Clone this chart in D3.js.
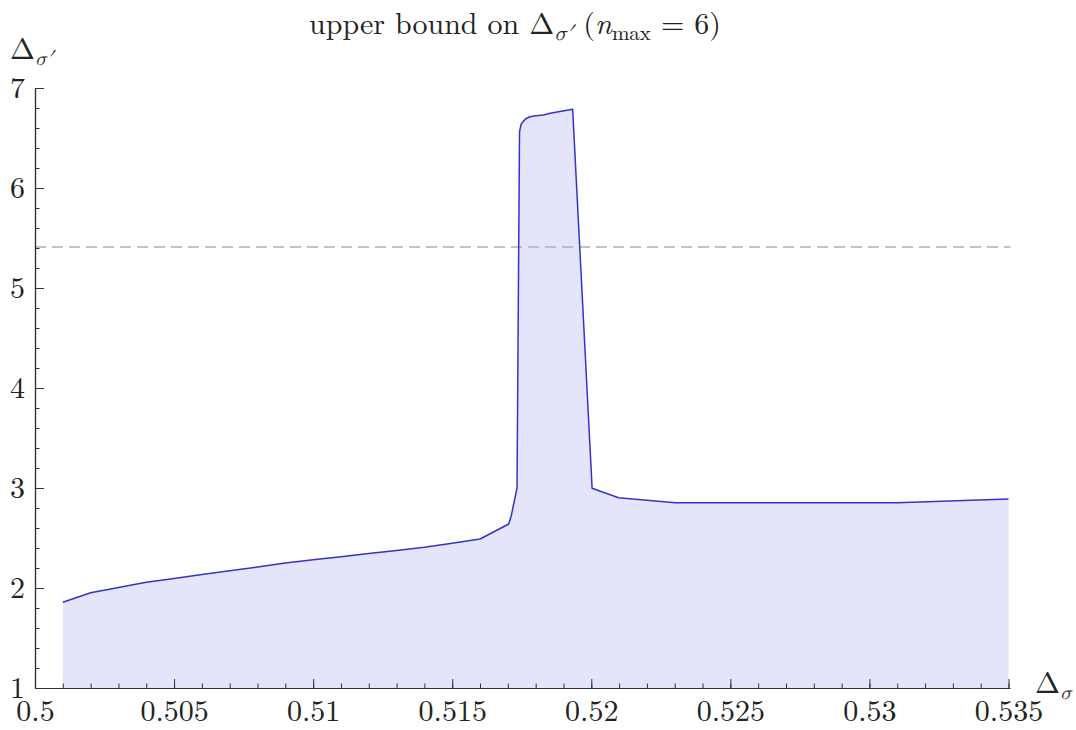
<!DOCTYPE html>
<html>
<head>
<meta charset="utf-8">
<script src="https://cdn.jsdelivr.net/npm/d3@7"></script>
<style>
  html, body { margin: 0; padding: 0; background: #fff; }
  svg { display: block; }
</style>
</head>
<body>
<svg id="chart" width="1076" height="730"></svg>
<script>
// ---- data ----
const deltaSigma = [0.501,0.502,0.503,0.504,0.505,0.506,0.507,0.508,0.509,0.510,0.511,0.512,0.513,0.514,0.515,0.516,
  0.51703,0.51712,0.51718,0.51733,0.51742,0.51748,0.51763,0.51777,0.51793,0.51828,0.51852,0.51933,
  0.52003,0.52098,0.52302,0.531,0.535];
const upperBound = [1.857,1.953,2.005,2.057,2.096,2.135,2.173,2.21,2.25,2.282,2.313,2.344,2.375,2.407,2.448,2.49,
  2.64,2.72,2.80,3.0,6.563,6.64,6.69,6.71,6.72,6.73,6.747,6.787,
  2.997,2.903,2.853,2.853,2.89];
const referenceLevel = 5.41;
const xTickValues = [0.5,0.505,0.51,0.515,0.52,0.525,0.53,0.535];
const xTickLabels = ["0.5","0.505","0.51","0.515","0.52","0.525","0.53","0.535"];
const yTickValues = [1,2,3,4,5,6,7];
const yTickLabels = ["1","2","3","4","5","6","7"];
const xDomain = [0.5, 0.535];
const yDomain = [1, 7];

(function () {
const FONT = '"Latin Modern Roman", "Liberation Serif", serif';
const MATH = '"Latin Modern Math", "Latin Modern Roman", "Liberation Serif", serif';
const svg = d3.select("#chart");
const mLeft = 35, mRight = 1008.5, mTop = 88, mBottom = 688;
const x = d3.scaleLinear().domain(xDomain).range([mLeft, mRight]);
const y = d3.scaleLinear().domain(yDomain).range([mBottom, mTop]);
const data = deltaSigma.map((d, i) => ({x: d, y: upperBound[i]}));

svg.append("path")
  .datum(data)
  .attr("d", d3.area().x(d => x(d.x)).y0(y(yDomain[0])).y1(d => y(d.y)))
  .attr("fill", "#e4e4fb");

svg.append("line")
  .attr("x1", x(xDomain[0])).attr("x2", x(xDomain[1]) + 2)
  .attr("y1", y(referenceLevel)).attr("y2", y(referenceLevel))
  .attr("stroke", "#b0b0b0").attr("stroke-width", 1.3)
  .attr("stroke-dasharray", "11,6");

svg.append("path")
  .datum(data)
  .attr("d", d3.line().x(d => x(d.x)).y(d => y(d.y)))
  .attr("fill", "none")
  .attr("stroke", "#3434c8")
  .attr("stroke-width", 1.5)
  .attr("stroke-linejoin", "round");

const axisColor = "#333";
const xMinor = d3.range(0, 36).map(i => xDomain[0] + i * 0.001);
const yMinor = d3.range(0, 31).map(i => yDomain[0] + i * 0.2);

const gxMinor = svg.append("g").attr("transform", `translate(0,${mBottom})`)
  .call(d3.axisBottom(x).tickValues(xMinor).tickSize(-4.5).tickSizeOuter(0).tickFormat(""));
const gyMinor = svg.append("g").attr("transform", `translate(${mLeft},0)`)
  .call(d3.axisLeft(y).tickValues(yMinor).tickSize(-4.5).tickSizeOuter(0).tickFormat(""));

const gx = svg.append("g").attr("transform", `translate(0,${mBottom})`)
  .call(d3.axisBottom(x).tickValues(xTickValues).tickSize(-9).tickSizeOuter(0).tickPadding(12)
    .tickFormat((d, i) => xTickLabels[i]));
const gy = svg.append("g").attr("transform", `translate(${mLeft},0)`)
  .call(d3.axisLeft(y).tickValues(yTickValues).tickSize(-9).tickSizeOuter(0).tickPadding(10)
    .tickFormat((d, i) => yTickLabels[i]));

[gx, gy, gxMinor, gyMinor].forEach(g => {
  g.attr("font-family", FONT);
  g.selectAll("path.domain").attr("stroke", axisColor).attr("stroke-width", 1.2);
  g.selectAll(".tick line").attr("stroke", axisColor).attr("stroke-width", 1);
});
[gx, gy].forEach(g => g.selectAll("text")
  .attr("font-family", FONT).attr("font-size", 30).attr("fill", "#222"));
gx.select("path.domain").attr("d", `M${mLeft},0.5H${mRight + 2}`);

// title
const title = svg.append("text").attr("x", 515).attr("y", 34).attr("text-anchor", "middle")
  .attr("font-family", FONT).attr("font-size", 30).attr("fill", "#222");
title.append("tspan").text("upper bound on Δ");
title.append("tspan").attr("baseline-shift", "-28%").attr("font-size", 21).attr("font-family", MATH).attr("font-style", "italic").text("σ′");
title.append("tspan").text(" (");
title.append("tspan").attr("font-style", "italic").text("n");
title.append("tspan").attr("baseline-shift", "-28%").attr("font-size", 21).text("max");
title.append("tspan").text(" = 6)");

// y axis label
const yl = svg.append("text").attr("x", 10).attr("y", 59)
  .attr("font-family", FONT).attr("font-size", 30).attr("fill", "#222");
yl.append("tspan").text("Δ");
yl.append("tspan").attr("baseline-shift", "-30%").attr("font-size", 20).attr("font-family", MATH).attr("font-style", "italic").text("σ′");

// x axis label
const xl = svg.append("text").attr("x", 1035).attr("y", 693)
  .attr("font-family", FONT).attr("font-size", 30).attr("fill", "#222");
xl.append("tspan").text("Δ");
xl.append("tspan").attr("baseline-shift", "-30%").attr("font-size", 20).attr("font-family", MATH).attr("font-style", "italic").text("σ");
})();
</script>
</body>
</html>
